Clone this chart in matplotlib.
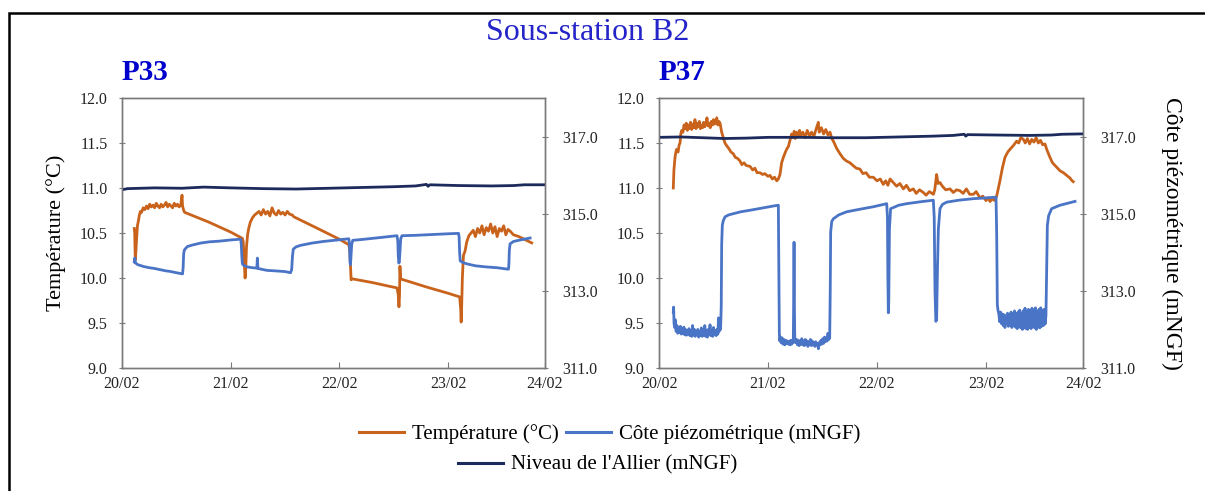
import matplotlib
matplotlib.use("Agg")
import matplotlib.pyplot as plt
from matplotlib.lines import Line2D
from matplotlib.patches import Rectangle

# ---------------- data (x in days since 20/02 00:00) ----------------
day_ticks = [0, 1, 2, 3, 3.89]
day_labels = ["20/02", "21/02", "22/02", "23/02", "24/02"]

# P33 temperature (°C)
p33_temp = [
    (0.113, 10.55), (0.117, 10.50), (0.122, 10.20), (0.128, 10.30), (0.135, 10.45), (0.142, 10.58),
    (0.150, 10.63), (0.160, 10.70), (0.170, 10.74), (0.180, 10.73), (0.195, 10.78), (0.21, 10.76),
    (0.225, 10.80), (0.24, 10.77), (0.255, 10.82), (0.27, 10.79), (0.285, 10.81), (0.30, 10.78),
    (0.315, 10.83), (0.33, 10.80), (0.345, 10.78), (0.36, 10.82), (0.375, 10.79), (0.39, 10.81),
    (0.405, 10.84), (0.42, 10.79), (0.435, 10.82), (0.45, 10.80), (0.465, 10.78), (0.48, 10.83),
    (0.495, 10.80), (0.51, 10.82), (0.525, 10.79), (0.54, 10.81), (0.552, 10.92), (0.557, 10.80),
    (0.565, 10.76), (0.575, 10.73), (0.8, 10.62), (1.0, 10.51), (1.107, 10.44),
    (1.115, 10.40), (1.125, 10.15), (1.132, 10.00), (1.138, 10.10), (1.145, 10.35), (1.155, 10.48),
    (1.165, 10.55), (1.18, 10.62), (1.20, 10.67), (1.22, 10.70), (1.24, 10.72), (1.26, 10.74),
    (1.28, 10.70), (1.30, 10.76), (1.32, 10.71), (1.34, 10.74), (1.36, 10.69), (1.38, 10.78),
    (1.40, 10.72), (1.42, 10.70), (1.44, 10.75), (1.46, 10.71), (1.48, 10.73), (1.50, 10.70),
    (1.52, 10.74), (1.54, 10.71), (1.566, 10.70), (1.58, 10.68), (1.8, 10.55), (2.0, 10.43),
    (2.086, 10.37), (2.095, 10.30), (2.107, 9.98), (2.12, 9.99), (2.3, 9.95), (2.45, 9.91),
    (2.529, 9.89), (2.540, 9.82), (2.547, 9.68), (2.552, 9.80), (2.556, 10.13), (2.562, 9.99),
    (2.8, 9.90), (3.0, 9.83), (3.105, 9.79), (3.115, 9.65), (3.119, 9.51), (3.124, 9.70),
    (3.13, 10.0), (3.14, 10.25), (3.155, 10.30), (3.17, 10.40), (3.19, 10.47), (3.21, 10.50),
    (3.23, 10.53), (3.25, 10.46), (3.27, 10.55), (3.29, 10.50), (3.31, 10.58), (3.33, 10.48),
    (3.35, 10.56), (3.37, 10.52), (3.39, 10.60), (3.41, 10.50), (3.43, 10.57), (3.45, 10.46),
    (3.47, 10.55), (3.49, 10.52), (3.51, 10.58), (3.53, 10.48), (3.55, 10.54), (3.57, 10.52),
    (3.60, 10.48), (3.65, 10.46), (3.70, 10.43), (3.768, 10.39),
]

# P33 piezometric level (mNGF)
p33_piezo = [
    (0.113, 313.75), (0.118, 313.85), (0.125, 313.72), (0.135, 313.70), (0.144, 313.68), (0.2, 313.63),
    (0.25, 313.60), (0.3, 313.58), (0.35, 313.55), (0.4, 313.52), (0.45, 313.50), (0.5, 313.47),
    (0.557, 313.44), (0.562, 313.60), (0.567, 313.95), (0.572, 314.05), (0.585, 314.10), (0.602, 314.15),
    (0.65, 314.19), (0.725, 314.24), (0.8, 314.27), (0.9, 314.29), (1.0, 314.32), (1.092, 314.34),
    (1.097, 314.2), (1.102, 313.9), (1.107, 313.70), (1.12, 313.66), (1.153, 313.62), (1.2, 313.60),
    (1.24, 313.59), (1.245, 313.85), (1.25, 313.58), (1.3, 313.55), (1.336, 313.53), (1.4, 313.52),
    (1.5, 313.50), (1.55, 313.47), (1.56, 313.55), (1.568, 313.9), (1.575, 314.08), (1.6, 314.14),
    (1.642, 314.18), (1.75, 314.24), (1.85, 314.28), (1.95, 314.31), (2.05, 314.34), (2.086, 314.35),
    (2.092, 314.2), (2.097, 313.75), (2.101, 313.68), (2.106, 313.9), (2.112, 314.2), (2.122, 314.31),
    (2.2, 314.33), (2.3, 314.36), (2.4, 314.39), (2.529, 314.43), (2.536, 314.3), (2.541, 313.9),
    (2.546, 313.72), (2.55, 313.75), (2.556, 314.0), (2.563, 314.35), (2.575, 314.43), (2.7, 314.44),
    (2.85, 314.46), (3.0, 314.48), (3.095, 314.49), (3.100, 314.4), (3.105, 314.0), (3.11, 313.78),
    (3.13, 313.74), (3.171, 313.70), (3.25, 313.65), (3.35, 313.62), (3.45, 313.60), (3.554, 313.56),
    (3.558, 313.7), (3.562, 314.05), (3.569, 314.22), (3.6, 314.28), (3.68, 314.33), (3.753, 314.37),
]

# P33 panel: Allier level (mNGF)
p33_allier = [
    (0.0, 315.62), (0.05, 315.65), (0.3, 315.67), (0.55, 315.66), (0.75, 315.69), (1.0, 315.67),
    (1.3, 315.65), (1.6, 315.64), (1.9, 315.66), (2.2, 315.68), (2.5, 315.70), (2.7, 315.72),
    (2.80, 315.76), (2.815, 315.71), (2.83, 315.75), (3.1, 315.73), (3.4, 315.72), (3.6, 315.73),
    (3.7, 315.75), (3.89, 315.75),
]

# P37 temperature (°C)
p37_temp = [
    (0.131, 11.00), (0.137, 11.20), (0.147, 11.34), (0.155, 11.40), (0.162, 11.43), (0.175, 11.40),
    (0.185, 11.48), (0.193, 11.50), (0.200, 11.60), (0.208, 11.64), (0.22, 11.62), (0.23, 11.70),
    (0.239, 11.66), (0.25, 11.72), (0.26, 11.64), (0.27, 11.70), (0.28, 11.66), (0.29, 11.73),
    (0.30, 11.65), (0.31, 11.71), (0.32, 11.67), (0.33, 11.76), (0.34, 11.66), (0.35, 11.72),
    (0.36, 11.68), (0.37, 11.74), (0.38, 11.66), (0.39, 11.70), (0.40, 11.67), (0.41, 11.73),
    (0.42, 11.68), (0.43, 11.71), (0.44, 11.78), (0.45, 11.69), (0.46, 11.72), (0.47, 11.67),
    (0.48, 11.74), (0.49, 11.70), (0.50, 11.76), (0.51, 11.71), (0.52, 11.73), (0.53, 11.78),
    (0.54, 11.70), (0.55, 11.74), (0.56, 11.72), (0.575, 11.62), (0.59, 11.56), (0.605, 11.50),
    (0.621, 11.47), (0.64, 11.44), (0.66, 11.40), (0.682, 11.38), (0.70, 11.34), (0.72, 11.33),
    (0.743, 11.30), (0.76, 11.26), (0.78, 11.28), (0.80, 11.25), (0.835, 11.24), (0.86, 11.20),
    (0.88, 11.22), (0.90, 11.17), (0.927, 11.17), (0.95, 11.15), (0.97, 11.16), (1.00, 11.13),
    (1.018, 11.14), (1.04, 11.10), (1.06, 11.12), (1.08, 11.08), (1.095, 11.10), (1.11, 11.15),
    (1.125, 11.28), (1.141, 11.34), (1.16, 11.40), (1.175, 11.44), (1.187, 11.46), (1.20, 11.52),
    (1.217, 11.60), (1.23, 11.56), (1.24, 11.63), (1.25, 11.55), (1.263, 11.62), (1.28, 11.57),
    (1.29, 11.64), (1.30, 11.58), (1.32, 11.62), (1.34, 11.56), (1.36, 11.64), (1.38, 11.58),
    (1.40, 11.62), (1.42, 11.57), (1.44, 11.65), (1.462, 11.73), (1.47, 11.62), (1.49, 11.67),
    (1.51, 11.60), (1.53, 11.65), (1.55, 11.59), (1.569, 11.62), (1.585, 11.55), (1.60, 11.52),
    (1.63, 11.44), (1.661, 11.38), (1.69, 11.33), (1.72, 11.30), (1.752, 11.28), (1.78, 11.25),
    (1.81, 11.22), (1.844, 11.21), (1.87, 11.16), (1.90, 11.17), (1.93, 11.12), (1.966, 11.12),
    (2.00, 11.08), (2.03, 11.10), (2.058, 11.04), (2.08, 11.08), (2.10, 11.03), (2.12, 11.10),
    (2.15, 11.06), (2.18, 11.02), (2.21, 11.05), (2.242, 10.99), (2.27, 11.03), (2.30, 10.97),
    (2.333, 10.99), (2.36, 10.94), (2.39, 10.98), (2.425, 10.95), (2.45, 10.92), (2.48, 10.96),
    (2.517, 10.93), (2.53, 10.98), (2.547, 11.15), (2.56, 11.05), (2.578, 11.06), (2.60, 11.02),
    (2.63, 10.98), (2.67, 10.99), (2.70, 10.95), (2.73, 10.98), (2.761, 10.97), (2.79, 10.94),
    (2.82, 10.99), (2.85, 10.93), (2.884, 10.93), (2.91, 10.96), (2.945, 10.89), (2.97, 10.91),
    (3.00, 10.86), (3.02, 10.89), (3.037, 10.85), (3.06, 10.88), (3.08, 10.86), (3.098, 10.91),
    (3.11, 10.98), (3.128, 11.08), (3.15, 11.22), (3.174, 11.34), (3.20, 11.40), (3.22, 11.43),
    (3.25, 11.47), (3.281, 11.52), (3.30, 11.50), (3.32, 11.56), (3.343, 11.54), (3.36, 11.50),
    (3.38, 11.55), (3.40, 11.49), (3.42, 11.54), (3.44, 11.51), (3.46, 11.56), (3.48, 11.50),
    (3.50, 11.53), (3.52, 11.48), (3.541, 11.49), (3.56, 11.42), (3.587, 11.34), (3.61, 11.28),
    (3.649, 11.23), (3.68, 11.19), (3.71, 11.17), (3.74, 11.14), (3.771, 11.11), (3.79, 11.08),
    (3.801, 11.07),
]

# P37 piezometric level (mNGF)
p37_piezo = [
    (0.131, 312.45), (0.134, 312.58), (0.138, 312.15), (0.145, 312.05), (0.150, 312.25), (0.157, 311.95),
    (0.165, 312.10), (0.172, 311.90), (0.18, 312.05), (0.188, 311.92), (0.196, 312.08), (0.204, 311.88),
    (0.212, 312.02), (0.22, 311.90), (0.228, 312.06), (0.236, 311.86), (0.244, 312.00), (0.252, 311.85),
    (0.26, 311.98), (0.268, 311.88), (0.276, 312.02), (0.284, 311.84), (0.292, 311.96), (0.30, 311.82),
    (0.308, 312.10), (0.316, 311.85), (0.324, 312.00), (0.332, 311.82), (0.34, 311.95), (0.348, 311.86),
    (0.356, 312.00), (0.364, 311.80), (0.372, 311.94), (0.38, 311.84), (0.388, 312.04), (0.396, 311.82),
    (0.404, 311.96), (0.412, 311.85), (0.42, 312.10), (0.428, 311.82), (0.436, 311.98), (0.444, 311.80),
    (0.452, 312.00), (0.46, 311.86), (0.468, 312.12), (0.476, 311.84), (0.484, 311.98), (0.492, 311.82),
    (0.50, 312.05), (0.508, 311.86), (0.516, 311.96), (0.524, 311.84), (0.532, 312.00), (0.54, 311.88),
    (0.546, 312.30), (0.552, 311.95), (0.558, 312.05), (0.565, 312.00),
    (0.571, 312.6), (0.575, 314.2), (0.581, 314.70), (0.59, 314.82), (0.606, 314.92), (0.64, 314.97),
    (0.682, 315.00), (0.75, 315.05), (0.835, 315.09), (0.95, 315.15), (1.05, 315.20), (1.095, 315.22),
    (1.100, 313.5), (1.104, 311.90), (1.108, 311.70),
    (1.114, 311.80), (1.122, 311.65), (1.13, 311.78), (1.138, 311.62), (1.146, 311.74), (1.154, 311.60),
    (1.162, 311.72), (1.17, 311.64), (1.178, 311.70), (1.186, 311.62), (1.194, 311.68), (1.202, 311.60),
    (1.21, 311.72), (1.218, 311.62), (1.226, 311.70), (1.232, 311.66), (1.236, 312.8), (1.239, 314.26),
    (1.242, 312.6), (1.246, 311.75), (1.254, 311.66), (1.262, 311.74), (1.27, 311.60), (1.278, 311.72),
    (1.286, 311.58), (1.294, 311.70), (1.302, 311.62), (1.31, 311.76), (1.318, 311.60), (1.326, 311.70),
    (1.334, 311.58), (1.342, 311.74), (1.35, 311.62), (1.358, 311.70), (1.366, 311.56), (1.374, 311.68),
    (1.382, 311.60), (1.39, 311.74), (1.398, 311.58), (1.406, 311.70), (1.414, 311.60), (1.422, 311.66),
    (1.43, 311.56), (1.438, 311.68), (1.446, 311.60), (1.454, 311.64), (1.462, 311.50), (1.47, 311.66),
    (1.478, 311.60), (1.486, 311.72), (1.494, 311.62), (1.502, 311.76), (1.51, 311.64), (1.518, 311.80),
    (1.526, 311.68), (1.534, 311.78), (1.542, 311.70), (1.55, 311.90), (1.558, 311.74), (1.566, 311.78),
    (1.571, 313.0), (1.575, 314.53), (1.585, 314.80), (1.6, 314.87), (1.65, 314.97), (1.722, 315.05),
    (1.85, 315.12), (1.966, 315.18), (2.089, 315.26),
    (2.096, 314.9), (2.100, 313.3), (2.104, 312.43), (2.108, 312.7), (2.114, 314.6), (2.125, 315.13),
    (2.2, 315.22), (2.272, 315.26), (2.4, 315.31), (2.517, 315.35),
    (2.525, 314.9), (2.532, 313.0), (2.540, 312.21), (2.547, 312.25), (2.555, 313.6), (2.563, 314.6),
    (2.578, 315.13), (2.6, 315.24), (2.639, 315.30), (2.75, 315.35), (2.884, 315.39), (3.0, 315.41),
    (3.092, 315.43),
    (3.098, 314.5), (3.104, 312.64), (3.11, 312.50),
    (3.118, 312.40), (3.126, 312.20), (3.134, 312.45), (3.142, 312.15), (3.15, 312.40), (3.158, 312.10),
    (3.166, 312.38), (3.174, 312.05), (3.182, 312.35), (3.19, 312.15), (3.198, 312.42), (3.206, 312.08),
    (3.214, 312.38), (3.222, 312.12), (3.23, 312.45), (3.238, 312.05), (3.246, 312.40), (3.254, 312.10),
    (3.262, 312.48), (3.27, 312.06), (3.278, 312.40), (3.286, 312.02), (3.294, 312.45), (3.302, 312.08),
    (3.31, 312.50), (3.318, 312.04), (3.326, 312.42), (3.334, 312.00), (3.342, 312.48), (3.35, 312.06),
    (3.358, 312.55), (3.366, 312.02), (3.374, 312.45), (3.382, 312.00), (3.39, 312.52), (3.398, 312.05),
    (3.406, 312.48), (3.414, 312.02), (3.422, 312.55), (3.43, 312.08), (3.438, 312.50), (3.446, 312.04),
    (3.454, 312.56), (3.462, 312.00), (3.47, 312.45), (3.478, 312.06), (3.486, 312.52), (3.494, 312.04),
    (3.502, 312.56), (3.51, 312.08), (3.518, 312.50), (3.526, 312.10), (3.534, 312.52), (3.542, 312.14),
    (3.55, 312.35),
    (3.556, 313.5), (3.563, 314.70), (3.575, 314.95), (3.602, 315.13), (3.679, 315.22), (3.75, 315.27),
    (3.817, 315.32),
]

# P37 panel: Allier level (mNGF)
p37_allier = [
    (0.0, 316.98), (0.2, 316.99), (0.4, 316.97), (0.6, 316.95), (0.8, 316.96), (1.0, 316.98),
    (1.3, 316.98), (1.6, 316.97), (1.9, 316.97), (2.2, 316.99), (2.5, 317.01), (2.7, 317.03),
    (2.80, 317.06), (2.815, 317.01), (2.83, 317.05), (3.1, 317.04), (3.4, 317.03), (3.6, 317.04),
    (3.7, 317.06), (3.89, 317.07),
]

temp_ticks = [9.0, 9.5, 10.0, 10.5, 11.0, 11.5, 12.0]
level_ticks = [311.0, 313.0, 315.0, 317.0]

title_text = "Sous-station B2"
panel_names = ["P33", "P37"]
label_temp = "Température (°C)"
label_piezo = "Côte piézométrique (mNGF)"
label_allier = "Niveau de l'Allier (mNGF)"

# ---------------- style ----------------
C_TEMP = "#C9631C"
C_PIEZO = "#4A74C6"
C_ALLIER = "#1C2A5C"
C_SPINE = "#7a7a7a"
FONT = "Liberation Serif"
plt.rcParams["font.family"] = [FONT, "DejaVu Serif"]

W, H = 1205, 491
fig = plt.figure(figsize=(W / 100, H / 100), dpi=100)

# outer frame (left and top edges visible)
fig.patches.append(Rectangle((9 / W, -0.2), 1.2, 1.2 - 13 / H, transform=fig.transFigure,
                             fill=False, edgecolor="black", linewidth=1.8))


def unzip(pairs):
    return [p[0] for p in pairs], [p[1] for p in pairs]


def panel(rect, temp, piezo, allier, name, left_label, right_label):
    ax = fig.add_axes(rect)
    ax2 = ax.twinx()
    x, y = unzip(temp)
    ax.plot(x, y, color=C_TEMP, lw=2.0)
    x, y = unzip(piezo)
    ax2.plot(x, y, color=C_PIEZO, lw=2.0)
    x, y = unzip(allier)
    ax2.plot(x, y, color=C_ALLIER, lw=2.0)

    ax.set_xlim(0, 3.89)
    ax.set_ylim(9.0, 12.0)
    ax2.set_ylim(311.0, 318.0)
    ax.set_xticks(day_ticks)
    ax.set_xticklabels(day_labels)
    ax.set_yticks(temp_ticks)
    ax.set_yticklabels([f"{v:.1f}" for v in temp_ticks])
    ax2.set_yticks(level_ticks)
    ax2.set_yticklabels([f"{v:.1f}" for v in level_ticks])

    for a in (ax, ax2):
        for s in a.spines.values():
            s.set_color(C_SPINE)
            s.set_linewidth(1.0)
    ax.tick_params(axis="x", direction="in", length=4, color=C_SPINE, labelsize=11.5,
                   labelcolor="#222222", pad=6)
    ax.tick_params(axis="y", direction="inout", length=5, color=C_SPINE, labelsize=11.5,
                   labelcolor="#222222", pad=8)
    ax2.tick_params(axis="y", direction="inout", length=5, color=C_SPINE, labelsize=11.5,
                    labelcolor="#222222", pad=10)
    if left_label:
        ax.set_ylabel(label_temp, fontsize=16, labelpad=10)
    if right_label:
        ax2.set_ylabel(label_piezo, fontsize=17, rotation=270, labelpad=33)
    ax.text(0.0, 1.045, name, transform=ax.transAxes, fontsize=21, fontweight="bold",
            color="#0000CC", ha="left", va="bottom")
    return ax, ax2


panel([122 / W, 1 - 368 / H, 423 / W, 270 / H], p33_temp, p33_piezo, p33_allier,
      panel_names[0], True, False)
panel([659 / W, 1 - 368 / H, 424 / W, 270 / H], p37_temp, p37_piezo, p37_allier,
      panel_names[1], False, True)

fig.text(588 / W, 1 - 32 / H, title_text, fontsize=23, color="#2424C8", ha="center", va="center")

h_temp = Line2D([], [], color=C_TEMP, lw=2.2)
h_piezo = Line2D([], [], color=C_PIEZO, lw=2.2)
h_allier = Line2D([], [], color=C_ALLIER, lw=2.2)
fig.legend([h_temp, h_piezo], [label_temp, label_piezo], ncol=2, loc="center",
           bbox_to_anchor=(610 / W, 1 - 434 / H), frameon=False, fontsize=15,
           handlelength=2.15, columnspacing=0.35, handletextpad=0.4)
fig.legend([h_allier], [label_allier], loc="center", bbox_to_anchor=(598 / W, 1 - 465 / H),
           frameon=False, fontsize=15, handlelength=2.15, handletextpad=0.4)

fig.savefig("out.png", dpi=100)
